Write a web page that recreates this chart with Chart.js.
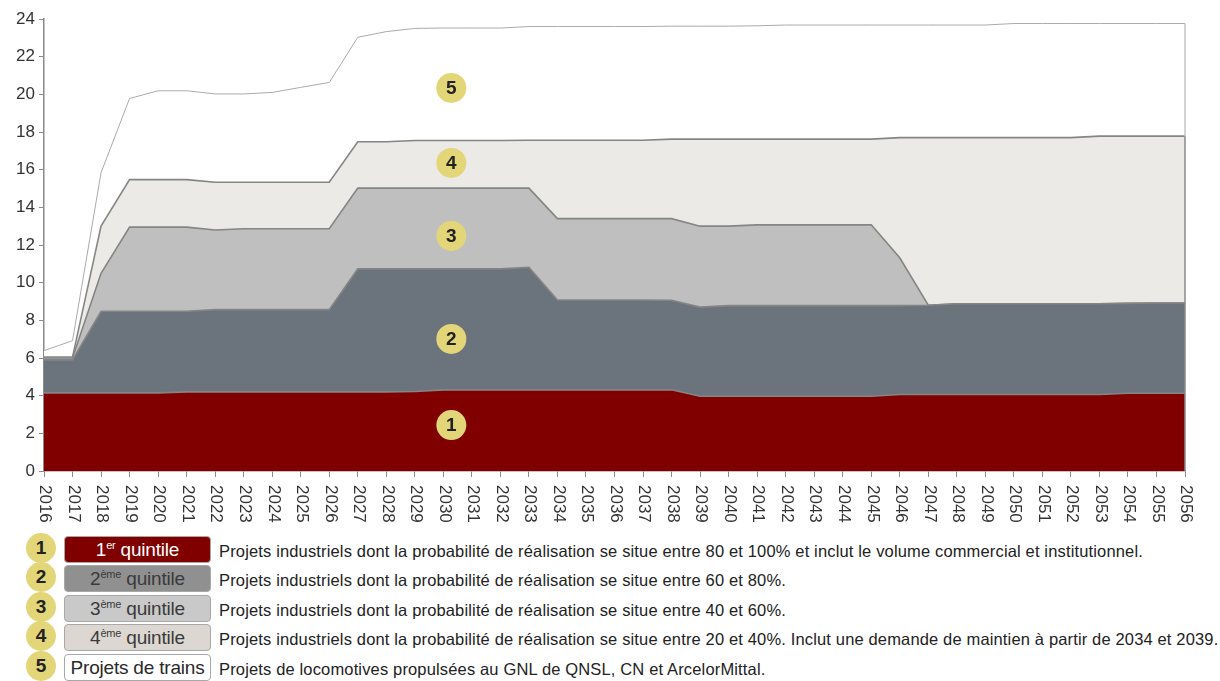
<!DOCTYPE html>
<html lang="fr">
<head>
<meta charset="utf-8">
<script src="https://cdn.jsdelivr.net/npm/chart.js@4.4.1/dist/chart.umd.min.js"></script>
<style>
  html, body { margin: 0; padding: 0; background: #fff; }
  body { width: 1220px; height: 681px; position: relative; overflow: hidden; font-family: "Liberation Sans", Arial, sans-serif; }
  #wrap { position: absolute; left: 0; top: 0; width: 1220px; height: 530px; }
  .circ { position: absolute; width: 30px; height: 30px; border-radius: 50%; background: #E2D679; color: #222; font-weight: bold; font-size: 19px; line-height: 30px; text-align: center; }
  .box { position: absolute; left: 64px; width: 145px; height: 25px; border: 1px solid #a8a8a8; border-radius: 4px; font-size: 19px; line-height: 25px; text-align: center; box-sizing: content-box; white-space: nowrap; letter-spacing: -0.2px; }
  .box sup { font-size: 11px; vertical-align: 0; position: relative; top: -7px; }
  .desc { position: absolute; left: 219px; font-size: 16.5px; line-height: 20px; color: #222; white-space: nowrap; }
</style>
</head>
<body>
<div id="wrap"><canvas id="c" width="1220" height="530"></canvas></div>
<div id="legend"></div>
<script>
// ---- data ----
const years = ['2016','2017','2018','2019','2020','2021','2022','2023','2024','2025','2026','2027','2028','2029','2030','2031','2032','2033','2034','2035','2036','2037','2038','2039','2040','2041','2042','2043','2044','2045','2046','2047','2048','2049','2050','2051','2052','2053','2054','2055','2056'];
const quintile1 = [4.15,4.15,4.15,4.15,4.15,4.20,4.20,4.20,4.20,4.20,4.20,4.20,4.20,4.22,4.31,4.31,4.31,4.31,4.31,4.31,4.31,4.31,4.31,3.97,3.97,3.97,3.97,3.97,3.97,3.97,4.06,4.06,4.06,4.06,4.06,4.06,4.06,4.06,4.13,4.13,4.13];
const quintile2 = [1.75,1.75,4.33,4.33,4.33,4.28,4.37,4.37,4.37,4.37,4.37,6.53,6.53,6.51,6.42,6.42,6.42,6.51,4.77,4.77,4.77,4.77,4.76,4.73,4.81,4.81,4.81,4.81,4.81,4.81,4.72,4.74,4.82,4.82,4.82,4.82,4.82,4.82,4.77,4.79,4.79];
const quintile3 = [0.10,0.10,2.02,4.47,4.47,4.47,4.23,4.29,4.29,4.29,4.29,4.29,4.29,4.29,4.29,4.29,4.29,4.20,4.32,4.32,4.32,4.32,4.33,4.30,4.22,4.29,4.29,4.29,4.29,4.29,2.54,0,0,0,0,0,0,0,0,0,0];
const quintile4 = [0.05,0.05,2.50,2.52,2.52,2.52,2.53,2.47,2.47,2.47,2.47,2.46,2.46,2.53,2.53,2.53,2.53,2.54,4.16,4.16,4.16,4.16,4.22,4.62,4.62,4.55,4.55,4.55,4.55,4.55,6.38,8.90,8.82,8.82,8.82,8.82,8.82,8.90,8.88,8.86,8.86];
const trains    = [0.34,0.87,2.84,4.31,4.72,4.72,4.69,4.69,4.77,5.04,5.30,5.55,5.85,5.95,5.97,5.97,5.97,6.04,6.04,6.04,6.04,6.04,6.00,6.00,6.00,6.02,6.06,6.06,6.06,6.06,5.98,5.98,5.98,5.98,6.06,6.06,6.06,5.98,5.98,5.98,5.98];
const yTicks = [0,2,4,6,8,10,12,14,16,18,20,22,24];
const boxLabels = ['1<sup>er</sup> quintile','2<sup>ème</sup> quintile','3<sup>ème</sup> quintile','4<sup>ème</sup> quintile','Projets de trains'];
const descriptions = [
  'Projets industriels dont la probabilité de réalisation se situe entre 80 et 100% et inclut le volume commercial et institutionnel.',
  'Projets industriels dont la probabilité de réalisation se situe entre 60 et 80%.',
  'Projets industriels dont la probabilité de réalisation se situe entre 40 et 60%.',
  'Projets industriels dont la probabilité de réalisation se situe entre 20 et 40%. Inclut une demande de maintien à partir de 2034 et 2039.',
  'Projets de locomotives propulsées au GNL de QNSL, CN et ArcelorMittal.'
];

// ---- styles ----
const FONT = '"Liberation Sans", Arial, sans-serif';
const fills = ['#800000','#6B737C','#BFBFBF','#EBEAE6','#FFFFFF'];
const boxFills = ['#800000','#909090','#C9C9C9','#DCD8D1','#FFFFFF'];
const boxText = ['#FFFFFF','#3a3a3a','#3a3a3a','#3a3a3a','#2a2a2a'];

// on-chart circle markers (category position, value)
const markerPos = [[14.28,2.44],[14.28,7.01],[14.28,12.48],[14.28,16.36],[14.28,20.34]];

const xLabelPlugin = {
  id: 'xlabels',
  afterDraw(chart) {
    const ctx = chart.ctx, xs = chart.scales.x;
    ctx.save();
    ctx.font = '17px ' + FONT;
    ctx.fillStyle = '#333';
    ctx.textAlign = 'left';
    ctx.textBaseline = 'middle';
    years.forEach((lab, i) => {
      const x = xs.getPixelForTick(i);
      ctx.save();
      ctx.translate(x + 1, xs.top + 14);
      ctx.rotate(Math.PI / 2);
      ctx.fillText(lab, 0, 0);
      ctx.restore();
    });
    ctx.restore();
  }
};

const edgePlugin = {
  id: 'edge',
  afterDatasetsDraw(chart) {
    const ctx = chart.ctx, ys = chart.scales.y;
    const n = years.length - 1;
    const m4 = chart.getDatasetMeta(3).data[n];
    const m5 = chart.getDatasetMeta(4).data[n];
    ctx.save();
    ctx.lineWidth = 1.5;
    ctx.strokeStyle = '#8a8a8a';
    ctx.beginPath(); ctx.moveTo(m4.x, ys.getPixelForValue(0)); ctx.lineTo(m4.x, m4.y); ctx.stroke();
    ctx.strokeStyle = '#c4c4c4';
    ctx.beginPath(); ctx.moveTo(m5.x, m4.y); ctx.lineTo(m5.x, m5.y); ctx.stroke();
    ctx.restore();
  }
};

const markerPlugin = {
  id: 'markers',
  afterDraw(chart) {
    const ctx = chart.ctx, xs = chart.scales.x, ys = chart.scales.y;
    ctx.save();
    markerPos.forEach((p, i) => {
      const x = xs.getPixelForValue(p[0]);
      const y = ys.getPixelForValue(p[1]);
      ctx.beginPath();
      ctx.arc(x, y, 15, 0, Math.PI * 2);
      ctx.fillStyle = '#E2D679';
      ctx.fill();
      ctx.fillStyle = '#222';
      ctx.font = 'bold 19px ' + FONT;
      ctx.textAlign = 'center';
      ctx.textBaseline = 'middle';
      ctx.fillText(String(i + 1), x, y + 1);
    });
    ctx.restore();
  }
};

const series = [quintile1, quintile2, quintile3, quintile4, trains];
const datasets = series.map((d, i) => ({
  label: 'Q' + (i + 1),
  data: d,
  backgroundColor: fills[i],
  borderColor: i === 4 ? '#ababab' : '#858585',
  borderWidth: i === 4 ? 1 : 1.6,
  fill: i === 0 ? 'origin' : '-1',
  pointRadius: 0,
  tension: 0
}));

new Chart(document.getElementById('c'), {
  type: 'line',
  data: { labels: years, datasets },
  plugins: [edgePlugin, xLabelPlugin, markerPlugin],
  options: {
    responsive: false,
    animation: false,
    layout: { padding: { top: 19, right: 35, left: 0, bottom: 0 } },
    plugins: { legend: { display: false }, tooltip: { enabled: false } },
    scales: {
      x: {
        type: 'category',
        offset: false,
        grid: { display: true, drawOnChartArea: false, drawTicks: true, tickLength: 6, color: '#8a8a8a', offset: false },
        border: { display: true, color: '#8a8a8a', width: 1.5 },
        ticks: { display: false, autoSkip: false },
        afterFit(s) { s.height = 59; }
      },
      y: {
        stacked: true,
        min: 0, max: 24,
        afterBuildTicks(s) { s.ticks = yTicks.map(v => ({ value: v })); },
        grid: { display: true, drawOnChartArea: false, drawTicks: true, tickLength: 5, color: '#8a8a8a' },
        border: { display: true, color: '#8a8a8a', width: 1.5 },
        ticks: { color: '#333', font: { family: FONT, size: 17 }, padding: 4 },
        afterFit(s) { s.width = 44; }
      }
    }
  }
});

// ---- legend ----
const legend = document.getElementById('legend');
const mctx = document.createElement('canvas').getContext('2d');
mctx.font = '16.5px ' + FONT;
const w0 = mctx.measureText(descriptions[0]).width;
const ls = (924 - w0) / descriptions[0].length;
for (let i = 0; i < 5; i++) {
  const cy = 549 + i * 29.4;
  const c = document.createElement('div');
  c.className = 'circ';
  c.style.left = (41 - 15) + 'px';
  c.style.top = (cy - 15 - 1) + 'px';
  c.textContent = String(i + 1);
  legend.appendChild(c);
  const b = document.createElement('div');
  b.className = 'box';
  b.style.top = (cy - 13) + 'px';
  b.style.background = boxFills[i];
  b.style.color = boxText[i];
  b.innerHTML = boxLabels[i];
  legend.appendChild(b);
  const d = document.createElement('div');
  d.className = 'desc';
  d.style.top = (cy - 8) + 'px';
  d.style.letterSpacing = ls.toFixed(3) + 'px';
  d.textContent = descriptions[i];
  legend.appendChild(d);
}
</script>
</body>
</html>
